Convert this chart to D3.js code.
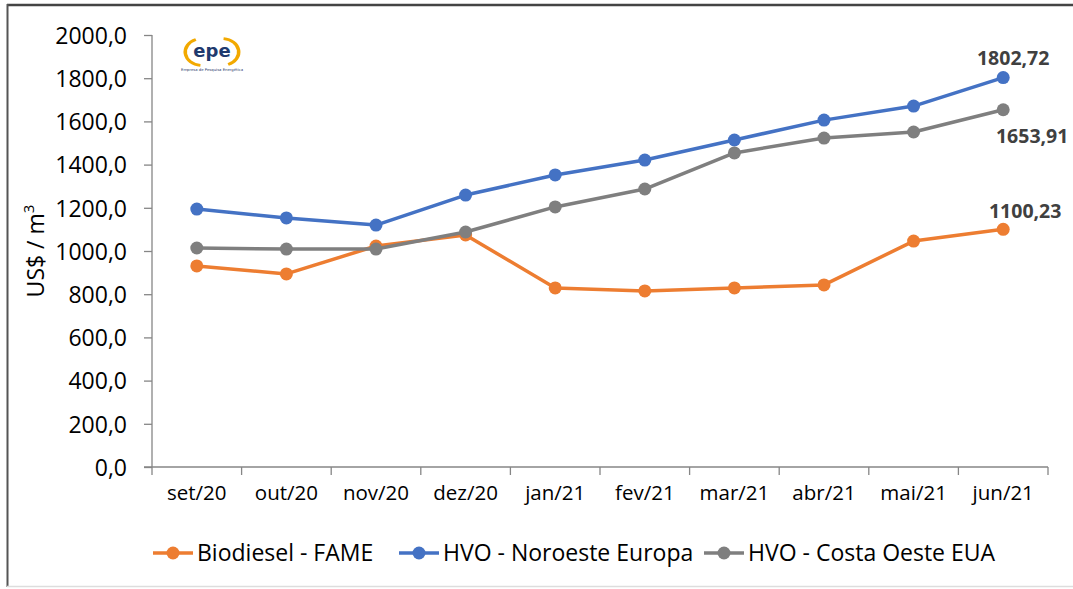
<!DOCTYPE html>
<html>
<head>
<meta charset="utf-8">
<script src="https://cdn.jsdelivr.net/npm/d3@7"></script>
<style>
  body { margin: 0; background: #fff; }
  svg { display: block; }
</style>
</head>
<body>
<div id="chart"></div>
<script>
// dados (US$/m3)
var meses = ["set/20","out/20","nov/20","dez/20","jan/21","fev/21","mar/21","abr/21","mai/21","jun/21"];
var fame = [931, 894, 1023, 1074, 829, 815, 829, 843, 1046, 1100.23];
var hvoEuropa = [1194, 1153, 1120, 1259, 1352, 1421, 1514, 1606, 1671, 1802.72];
var hvoEua = [1014, 1009, 1009, 1088, 1204, 1287, 1454, 1523, 1551, 1653.91];
var yTicks = [0, 200, 400, 600, 800, 1000, 1200, 1400, 1600, 1800, 2000];

var series = [
  { name: "Biodiesel - FAME", color: "#ED7D31", values: fame, labelDx: 22, labelDy: -11 },
  { name: "HVO - Noroeste Europa", color: "#4472C4", values: hvoEuropa, labelDx: 10, labelDy: -13 },
  { name: "HVO - Costa Oeste EUA", color: "#7F7F7F", values: hvoEua, labelDx: 29, labelDy: 33 }
];

var width = 1073, height = 589;
var font = "'Open Sans', sans-serif";

var svg = d3.select("#chart").append("svg")
  .attr("width", width)
  .attr("height", height);

// moldura
svg.append("rect").attr("x", 0).attr("y", 0).attr("width", width).attr("height", height).attr("fill", "#fff");
svg.append("line").attr("x1", 7).attr("x2", width).attr("y1", 5).attr("y2", 5)
  .attr("stroke", "#444").attr("stroke-width", 2.5);
svg.append("line").attr("x1", 7.5).attr("x2", 7.5).attr("y1", 4).attr("y2", 587)
  .attr("stroke", "#555").attr("stroke-width", 2);
svg.append("line").attr("x1", 7).attr("x2", width).attr("y1", 586.5).attr("y2", 586.5)
  .attr("stroke", "#ddd").attr("stroke-width", 1.5);

var x = d3.scaleBand().domain(meses).range([152, 1048]);
var y = d3.scaleLinear().domain([0, 2000]).range([467, 35]);

// eixo y
var yAxis = svg.append("g")
  .attr("transform", "translate(152,0)")
  .call(d3.axisLeft(y).tickValues(yTicks).tickSize(8).tickPadding(17)
    .tickFormat(function(d){ return d3.format(".1f")(d).replace(".", ","); }));
yAxis.selectAll("path, line").attr("stroke", "#868686").attr("stroke-width", 1.3);
yAxis.select(".domain").attr("d", "M0,35V467");
yAxis.selectAll("text").attr("font-family", font).attr("font-size", 23).attr("fill", "#000")
  .attr("dy", "0.36em");

// eixo x
var xAxis = svg.append("g")
  .attr("transform", "translate(0,467)")
  .call(d3.axisBottom(x).tickSize(0).tickPadding(18));
xAxis.select(".domain").attr("stroke", "#868686").attr("stroke-width", 1.3).attr("d", "M144,0H1048");
xAxis.selectAll("text").attr("font-family", font).attr("font-size", 20.5).attr("fill", "#000");
// marcas entre categorias
var bounds = meses.map(function(m){ return x(m); }).concat([x.range()[1]]);
xAxis.selectAll(".sep").data(bounds).enter().append("line")
  .attr("x1", function(d){ return d; }).attr("x2", function(d){ return d; })
  .attr("y1", 0).attr("y2", 8)
  .attr("stroke", "#868686").attr("stroke-width", 1.3);

// titulo do eixo y
svg.append("text")
  .attr("transform", "translate(44,251) rotate(-90)")
  .attr("text-anchor", "middle")
  .attr("font-family", font).attr("font-size", 23)
  .html("US$ / m<tspan dy='-10' font-size='15'>3</tspan>");

// linhas
var line = d3.line()
  .x(function(d, i){ return x(meses[i]) + x.bandwidth() / 2; })
  .y(function(d){ return y(d); });

series.forEach(function(s){
  var g = svg.append("g");
  g.append("path").datum(s.values)
    .attr("d", line).attr("fill", "none")
    .attr("stroke", s.color).attr("stroke-width", 3.5).attr("stroke-linejoin", "round");
  g.selectAll("circle").data(s.values).enter().append("circle")
    .attr("cx", function(d, i){ return x(meses[i]) + x.bandwidth() / 2; })
    .attr("cy", function(d){ return y(d); })
    .attr("r", 6.5).attr("fill", s.color);
  var last = s.values.length - 1;
  g.append("text")
    .attr("x", x(meses[last]) + x.bandwidth() / 2 + s.labelDx)
    .attr("y", y(s.values[last]) + s.labelDy)
    .attr("text-anchor", "middle")
    .attr("font-family", font).attr("font-size", 19.5).attr("font-weight", "bold")
    .attr("fill", "#404040")
    .text(d3.format(".2f")(s.values[last]).replace(".", ","));
});

// legenda
var legX = [153, 399, 704];
series.forEach(function(s, i){
  var g = svg.append("g").attr("transform", "translate(" + legX[i] + ",553)");
  g.append("line").attr("x1", 0).attr("x2", 40).attr("y1", 0).attr("y2", 0)
    .attr("stroke", s.color).attr("stroke-width", 3.5);
  g.append("circle").attr("cx", 20).attr("cy", 0).attr("r", 6.5).attr("fill", s.color);
  g.append("text").attr("x", 44).attr("y", 8)
    .attr("font-family", font).attr("font-size", 23).attr("fill", "#000")
    .text(s.name);
});

// logo epe
var logo = svg.append("g").attr("transform", "translate(212,52)");
var arc = d3.arc();
logo.append("path")
  .attr("d", arc({ innerRadius: 15, outerRadius: 18.5, startAngle: -Math.PI * 0.97, endAngle: -Math.PI * 0.12 }))
  .attr("transform", "translate(-10,0) scale(1,0.8)")
  .attr("fill", "#F2A900");
logo.append("path")
  .attr("d", arc({ innerRadius: 15, outerRadius: 18.5, startAngle: Math.PI * 0.03, endAngle: Math.PI * 0.88 }))
  .attr("transform", "translate(10,0) scale(1,0.8)")
  .attr("fill", "#F2A900");
logo.append("text").attr("x", 0).attr("y", 5).attr("text-anchor", "middle")
  .attr("font-family", "'DejaVu Sans', sans-serif").attr("font-size", 18).attr("font-weight", "bold")
  .attr("fill", "#1F3A6E").text("epe");
logo.append("text").attr("x", 0).attr("y", 19).attr("text-anchor", "middle")
  .attr("font-family", "'DejaVu Sans', sans-serif").attr("font-size", 3.8)
  .attr("fill", "#1F3A6E").text("Empresa de Pesquisa Energética");
</script>
</body>
</html>
